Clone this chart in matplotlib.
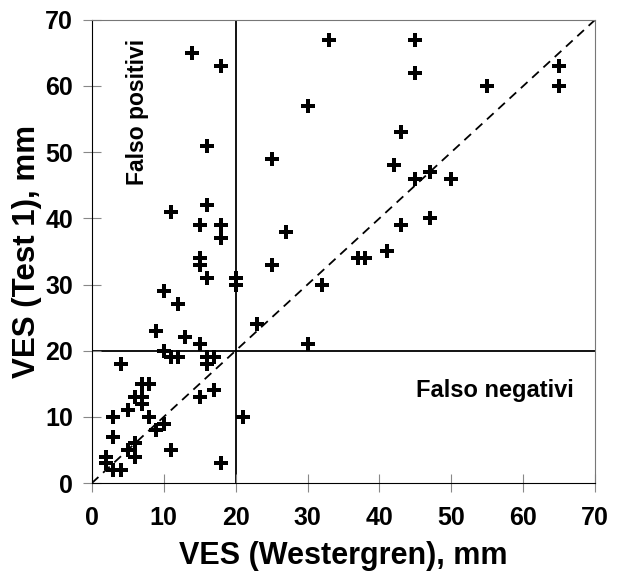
import matplotlib.pyplot as plt

# VES Westergren (x) vs VES Test 1 (y), mm
ves_west = [14, 18, 16, 11, 16, 15, 18, 18, 15, 15, 16, 20, 20, 10, 12, 23, 9, 13, 15, 10,
            11, 12, 16, 17, 16, 4, 7, 8, 6, 7, 7, 15, 17, 5, 3, 8, 10, 9, 3, 6,
            5, 6, 11, 2, 2, 3, 4, 18, 21,
            33, 45, 45, 30, 43, 25, 42, 45, 47, 47, 43, 27, 41, 37, 38, 65, 65, 55, 50,
            25, 32, 30]
ves_test1 = [65, 63, 51, 41, 42, 39, 39, 37, 34, 33, 31, 31, 30, 29, 27, 24, 23, 22, 21, 20,
             19, 19, 19, 19, 18, 18, 15, 15, 13, 13, 12, 13, 14, 11, 10, 10, 9, 8, 7, 6,
             5, 4, 5, 4, 3, 2, 2, 3, 10,
             67, 67, 62, 57, 53, 49, 48, 46, 47, 40, 39, 38, 35, 34, 34, 63, 60, 60, 46,
             33, 30, 21]

cutoff = 20
ticks = [0, 10, 20, 30, 40, 50, 60, 70]

plt.rcParams["font.family"] = ["Liberation Sans", "DejaVu Sans"]

fig = plt.figure(figsize=(6.2, 5.8), dpi=100)
ax = fig.add_axes([0.148, 0.167, 0.812, 0.799])

ax.plot([0, 70], [0, 70], linestyle=(0, (5, 3.5)), color="black", linewidth=1.3, zorder=1)
ax.axvline(cutoff, color="black", linewidth=1.3, zorder=1)
ax.axhline(cutoff, color="black", linewidth=1.3, zorder=1)

ax.plot(ves_west, ves_test1, linestyle="none", marker="P", markersize=9.5,
        color="black", markeredgewidth=0, zorder=3)

ax.text(6.4, 56, "Falso positivi", rotation=90, ha="center", va="center",
        fontsize=16.5, fontweight="bold")
ax.text(56, 14, "Falso negativi", ha="center", va="center",
        fontsize=17, fontweight="bold")

ax.set_xlim(0, 70)
ax.set_ylim(0, 70)
ax.set_xticks(ticks)
ax.set_yticks(ticks)
ax.tick_params(direction="inout", length=13, width=0.8, labelsize=18,
               color="#888888", labelcolor="black")
ax.tick_params(axis="x", pad=10)
ax.tick_params(axis="y", pad=7)
for lab in ax.get_xticklabels() + ax.get_yticklabels():
    lab.set_fontweight("bold")

for side in ["top", "right"]:
    ax.spines[side].set_color("#777777")
for side in ["left", "bottom"]:
    ax.spines[side].set_color("black")

ax.set_xlabel("VES (Westergren), mm", fontsize=22, fontweight="bold", labelpad=8)
ax.set_ylabel("VES (Test 1), mm", fontsize=22.5, fontweight="bold", labelpad=2)

fig.savefig("out.png", dpi=100)
